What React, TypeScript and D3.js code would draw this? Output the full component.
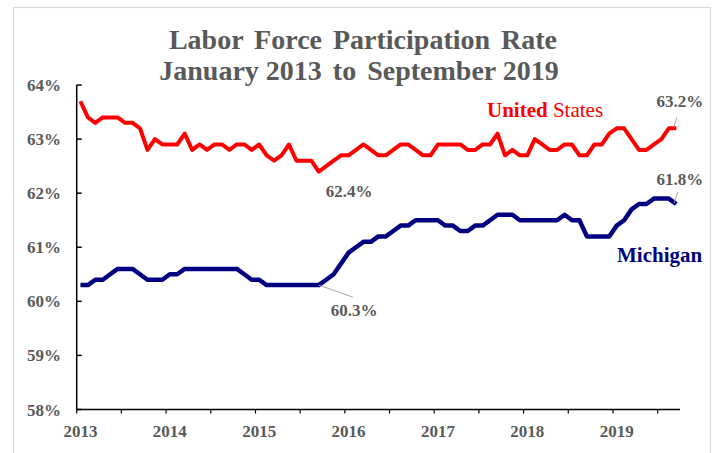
import React from "react";
import * as d3 from "d3";

// monthly values, Jan 2013 .. Sep 2019
const years = ["2013", "2014", "2015", "2016", "2017", "2018", "2019"];

const usRate = [
  63.7, 63.4, 63.3, 63.4, 63.4, 63.4, 63.3, 63.3, 63.2, 62.8, 63.0, 62.9,
  62.9, 62.9, 63.1, 62.8, 62.9, 62.8, 62.9, 62.9, 62.8, 62.9, 62.9, 62.8,
  62.9, 62.7, 62.6, 62.7, 62.9, 62.6, 62.6, 62.6, 62.4, 62.5, 62.6, 62.7,
  62.7, 62.8, 62.9, 62.8, 62.7, 62.7, 62.8, 62.9, 62.9, 62.8, 62.7, 62.7,
  62.9, 62.9, 62.9, 62.9, 62.8, 62.8, 62.9, 62.9, 63.1, 62.7, 62.8, 62.7,
  62.7, 63.0, 62.9, 62.8, 62.8, 62.9, 62.9, 62.7, 62.7, 62.9, 62.9, 63.1,
  63.2, 63.2, 63.0, 62.8, 62.8, 62.9, 63.0, 63.2, 63.2,
];

const michiganRate = [
  60.3, 60.3, 60.4, 60.4, 60.5, 60.6, 60.6, 60.6, 60.5, 60.4, 60.4, 60.4,
  60.5, 60.5, 60.6, 60.6, 60.6, 60.6, 60.6, 60.6, 60.6, 60.6, 60.5, 60.4,
  60.4, 60.3, 60.3, 60.3, 60.3, 60.3, 60.3, 60.3, 60.3, 60.4, 60.5, 60.7,
  60.9, 61.0, 61.1, 61.1, 61.2, 61.2, 61.3, 61.4, 61.4, 61.5, 61.5, 61.5,
  61.5, 61.4, 61.4, 61.3, 61.3, 61.4, 61.4, 61.5, 61.6, 61.6, 61.6, 61.5,
  61.5, 61.5, 61.5, 61.5, 61.5, 61.6, 61.5, 61.5, 61.2, 61.2, 61.2, 61.2,
  61.4, 61.5, 61.7, 61.8, 61.8, 61.9, 61.9, 61.9, 61.8,
];

const yTicks = [58, 59, 60, 61, 62, 63, 64];

const GREY = "#595959";
const FONT = "'Liberation Serif', 'Times New Roman', serif";

const width = 716;
const height = 453;

const App: React.FC = () => {
  const n = usRate.length;
  const x = d3.scaleLinear().domain([-0.5, n - 0.5]).range([76.7, 680]);
  const y = d3.scaleLinear().domain([58, 64]).range([409.5, 85]);

  const line = d3
    .line<number>()
    .x((_, i) => x(i))
    .y((d) => y(d));

  // half-year tick marks on category boundaries
  const xTicks = d3.range(-0.5, n - 1, 6);

  const last = n - 1;
  const usLow = usRate.indexOf(d3.min(usRate)!);
  const miLowEnd = 32; // Sep 2015, end of the flat 60.3 stretch

  return (
    <div style={{ position: "fixed", left: 0, top: 0 }}>
      <svg width={width} height={height} style={{ display: "block", fontFamily: FONT }}>
        <rect x={0} y={0} width={width} height={height} fill="#fff" />
        <rect x={13.5} y={7.5} width={697} height={460} fill="#fff" stroke="#d9d9d9" strokeWidth={1.2} />

        <g fill={GREY} fontWeight="bold" fontSize={28} textAnchor="middle">
          <text x={363} y={49} wordSpacing={4}>Labor Force Participation Rate</text>
          <text x={359} y={80}>
            January 2013 <tspan dx={4}>to</tspan> <tspan dx={4}>September 2019</tspan>
          </text>
        </g>

        {/* y axis */}
        <line x1={x(-0.5)} x2={x(-0.5)} y1={y(64)} y2={y(58)} stroke="#000" strokeWidth={1.5} />
        {yTicks.map((t) => (
          <g key={t}>
            <line x1={x(-0.5)} x2={x(-0.5) + 5} y1={y(t)} y2={y(t)} stroke="#000" strokeWidth={1.5} />
            <text x={61} y={y(t) + 6} textAnchor="end" fontSize={17} fontWeight="bold" fill={GREY}>
              {t}%
            </text>
          </g>
        ))}

        {/* x axis */}
        <line x1={x(-0.5)} x2={x(n - 0.5)} y1={y(58)} y2={y(58)} stroke="#000" strokeWidth={1.5} />
        {xTicks.map((t) => (
          <line key={t} x1={x(t)} x2={x(t)} y1={y(58)} y2={y(58) + 4} stroke="#000" strokeWidth={1.2} />
        ))}
        {years.map((yr, k) => (
          <text key={yr} x={x(k * 12)} y={437} textAnchor="middle" fontSize={17} fontWeight="bold" fill={GREY}>
            {yr}
          </text>
        ))}

        {/* series */}
        <path d={line(usRate)!} fill="none" stroke="#ff0000" strokeWidth={4} strokeLinejoin="round" />
        <path d={line(michiganRate)!} fill="none" stroke="#000080" strokeWidth={4.5} strokeLinejoin="round" />

        {/* labels */}
        <text x={487} y={116.5} fill="#ff0000" fontSize={21}>
          <tspan fontWeight="bold">United</tspan> States
        </text>
        <text x={617} y={261.5} fill="#000080" fontSize={21} fontWeight="bold">
          Michigan
        </text>

        <g fill={GREY} fontSize={17} fontWeight="bold">
          <text x={x(last) + 27} y={107} textAnchor="end">{usRate[last].toFixed(1)}%</text>
          <text x={x(last) + 27} y={185} textAnchor="end">{michiganRate[last].toFixed(1)}%</text>
          <text x={x(usLow) + 7} y={y(usRate[usLow]) + 25}>{usRate[usLow].toFixed(1)}%</text>
          <text x={x(miLowEnd) + 12} y={y(michiganRate[miLowEnd]) + 31}>{michiganRate[miLowEnd].toFixed(1)}%</text>
        </g>
        <g stroke="#a6a6a6" strokeWidth={1}>
          <line x1={x(last) - 2} y1={y(usRate[last]) - 2} x2={x(last) + 0.5} y2={y(usRate[last]) - 11} />
          <line x1={x(last) - 2} y1={y(michiganRate[last]) - 1} x2={x(last) + 1.5} y2={y(michiganRate[last]) - 12} />
          <line x1={x(miLowEnd)} y1={y(michiganRate[miLowEnd])} x2={x(miLowEnd) + 34} y2={y(michiganRate[miLowEnd]) + 12} />
        </g>
      </svg>
    </div>
  );
};

export default App;
